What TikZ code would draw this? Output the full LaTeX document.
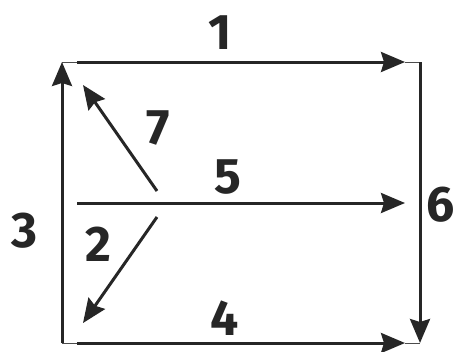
\documentclass[tikz,border=0pt]{standalone}
\usepackage{fontspec}
\setmainfont{Fira Sans}
\usetikzlibrary{arrows.meta}
\begin{document}
\begin{tikzpicture}[x=1pt,y=-1pt,
  arr/.style={line width=3pt,color=black!85,-{Stealth[length=24pt,width=20pt,inset=3pt]}},
  thinline/.style={line width=1pt,color=black!70},
  num/.style={font=\fontsize{50}{50}\selectfont\bfseries,text=black!85,inner sep=0pt}]
\useasboundingbox (0,0) rectangle (457,351);
\fill[white] (0,0) rectangle (457,351);
% corners and endpoints
\coordinate (TL) at (62,62);
\coordinate (TR) at (420,62);
\coordinate (BL) at (62,343);
\coordinate (BR) at (420,343);
\coordinate (s1) at (77,62);
\coordinate (e1) at (405,62);
\coordinate (s4) at (77,343);
\coordinate (e4) at (405,343);
\coordinate (s5) at (77,203);
\coordinate (e5) at (405,203);
\coordinate (s7) at (157,191);
\coordinate (e7) at (83,85);
\coordinate (s2) at (157,217);
\coordinate (e2) at (83,323);
% thin corner links
\draw[thinline] (TL) -- (s1);
\draw[thinline] (e1) -- (TR);
\draw[thinline] (BL) -- (s4);
\draw[thinline] (e4) -- (BR);
% arrows
\draw[arr] (s1) -- (e1);
\draw[arr] (s4) -- (e4);
\draw[arr] (s5) -- (e5);
\draw[arr] (BL) -- (TL);
\draw[arr] (TR) -- (BR);
\draw[arr] (s7) -- (e7);
\draw[arr] (s2) -- (e2);
% labels
\node[num] (n1) at (220,33) {1};
\node[num] (n7) at (158,128) {7};
\node[num] (n5) at (228,177) {5};
\node[num] (n3) at (25,231) {3};
\node[num] (n2) at (98,244) {2};
\node[num] (n4) at (225,318) {4};
\node[num,anchor=east] (n6) at (455,205) {6};
\end{tikzpicture}
\end{document}
